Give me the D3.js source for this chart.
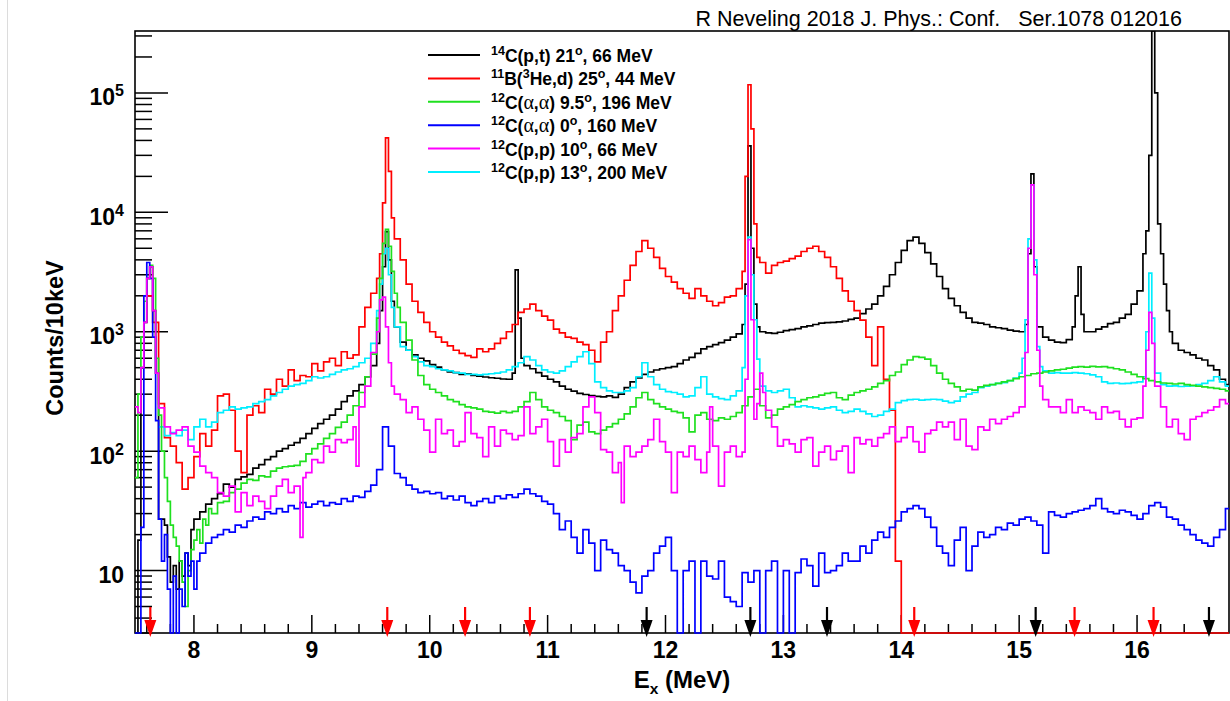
<!DOCTYPE html>
<html>
<head>
<meta charset="UTF-8" />
<script src="https://d3js.org/d3.v7.min.js"></script>
<style>
  body { margin: 0; background: #fff; }
  text { font-family: "Liberation Sans", Arial, sans-serif; }
</style>
</head>
<body>
<div id="chart"></div>
<script>
// spectra, [Ex (MeV) of bin left edge, counts/10keV]
var pt14 = [[7.50,0],[7.525,18],[7.55,500],[7.575,1200],[7.60,2800],[7.625,3500],[7.65,1500],[7.675,450],[7.70,27],[7.75,24],[7.775,13],[7.80,8],[7.825,11],[7.85,7],[7.875,12],[7.90,9],[7.925,14],[7.95,11],[7.975,22],
  [8.00,27],[8.05,31],[8.10,36],[8.15,40],[8.20,44],[8.25,53],[8.30,50],[8.35,58],[8.40,61],[8.45,64],[8.50,72],[8.55,77],[8.60,85],[8.65,90],[8.70,100],[8.75,105],[8.80,112],[8.85,118],[8.90,128],[8.95,140],
  [9.00,155],[9.05,170],[9.10,185],[9.15,200],[9.20,225],[9.25,260],[9.30,290],[9.35,320],[9.40,360],[9.45,420],[9.50,520],[9.55,800],[9.575,1500],[9.60,3500],[9.625,6900],[9.65,4000],[9.675,1800],[9.70,1100],[9.75,820],[9.80,700],[9.85,640],[9.90,600],[9.95,570],
  [10.00,530],[10.05,505],[10.10,480],[10.15,462],[10.20,455],[10.25,440],[10.30,445],[10.35,430],[10.40,425],[10.45,418],[10.50,412],[10.55,408],[10.60,402],[10.65,400],[10.70,450],[10.725,3300],[10.75,1300],[10.775,600],[10.80,520],[10.85,490],[10.90,455],[10.95,425],
  [11.00,400],[11.05,380],[11.10,350],[11.15,330],[11.20,318],[11.25,305],[11.30,298],[11.35,292],[11.40,288],[11.45,285],[11.50,290],[11.55,282],[11.60,300],[11.65,340],[11.70,380],[11.75,410],[11.80,440],[11.85,460],[11.90,478],[11.95,490],
  [12.00,500],[12.05,510],[12.10,540],[12.15,580],[12.20,610],[12.25,660],[12.30,720],[12.35,750],[12.40,780],[12.45,810],[12.50,850],[12.55,900],[12.60,960],[12.65,1150],[12.675,2500],[12.70,36000],[12.725,5000],[12.75,1700],[12.775,1100],[12.80,1000],[12.85,980],[12.90,970],[12.95,990],
  [13.00,1020],[13.05,1040],[13.10,1060],[13.15,1100],[13.20,1120],[13.25,1150],[13.30,1180],[13.35,1190],[13.40,1200],[13.45,1210],[13.50,1230],[13.55,1270],[13.60,1300],[13.65,1420],[13.70,1550],[13.75,1700],[13.80,2000],[13.85,2400],[13.90,3000],[13.95,3800],
  [14.00,4800],[14.05,5800],[14.10,6200],[14.15,5500],[14.20,4600],[14.25,3700],[14.30,2900],[14.35,2300],[14.40,1900],[14.45,1650],[14.50,1450],[14.55,1300],[14.60,1200],[14.65,1180],[14.70,1150],[14.75,1100],[14.80,1080],[14.85,1060],[14.90,1030],[14.95,1010],
  [15.00,1000],[15.05,1150],[15.075,4500],[15.10,21000],[15.125,3500],[15.15,1100],[15.20,900],[15.25,850],[15.30,820],[15.35,810],[15.40,860],[15.45,1100],[15.475,2000],[15.50,3500],[15.525,1400],[15.55,1000],[15.60,1000],[15.65,1050],[15.70,1100],[15.75,1170],[15.80,1200],[15.85,1300],[15.90,1400],[15.95,1700],
  [16.00,2200],[16.05,4500],[16.075,7000],[16.10,30000],[16.125,400000],[16.15,100000],[16.175,8000],[16.20,4500],[16.225,2500],[16.25,1500],[16.275,1000],[16.30,800],[16.35,700],[16.40,670],[16.45,640],[16.50,600],[16.55,580],[16.60,520],[16.65,480],[16.70,400],[16.75,360]]

var b11 = [[7.60,2000],[7.65,1200],[7.70,250],[7.75,130],[7.80,110],[7.85,80],[7.90,48],[7.95,60],
  [8.00,90],[8.05,140],[8.10,110],[8.15,150],[8.20,290],[8.25,300],[8.30,220],[8.35,100],[8.40,66],[8.45,200],[8.50,240],[8.55,210],[8.60,330],[8.65,300],[8.70,400],[8.75,350],[8.80,480],[8.85,390],[8.90,430],[8.95,420],
  [9.00,540],[9.05,470],[9.10,560],[9.15,600],[9.20,520],[9.25,680],[9.30,600],[9.35,640],[9.40,1100],[9.45,1600],[9.50,2100],[9.55,2800],[9.575,4500],[9.60,12000],[9.625,42000],[9.65,22000],[9.675,9000],[9.70,6000],[9.75,4000],[9.80,2500],[9.85,1800],[9.90,1450],[9.95,1200],
  [10.00,1000],[10.05,900],[10.10,820],[10.15,760],[10.20,700],[10.25,660],[10.30,630],[10.35,610],[10.40,720],[10.45,680],[10.50,720],[10.55,800],[10.60,880],[10.65,1000],[10.70,1150],[10.75,1450],[10.80,1550],[10.85,1700],[10.90,1500],[10.95,1350],
  [11.00,1250],[11.05,1050],[11.10,980],[11.15,900],[11.20,880],[11.25,820],[11.30,780],[11.35,700],[11.40,560],[11.45,820],[11.50,1000],[11.55,1500],[11.60,2000],[11.65,2700],[11.70,3600],[11.75,4700],[11.80,5800],[11.85,5000],[11.90,4200],[11.95,3400],
  [12.00,2900],[12.05,2600],[12.10,2300],[12.15,2100],[12.20,1900],[12.25,2300],[12.30,2000],[12.35,1800],[12.40,1650],[12.45,1750],[12.50,1950],[12.55,2000],[12.60,2300],[12.65,3200],[12.675,20000],[12.70,117000],[12.725,50000],[12.75,8000],[12.775,4200],[12.80,3800],[12.85,3100],[12.90,3600],[12.95,3800],
  [13.00,3900],[13.05,4100],[13.10,4300],[13.15,4700],[13.20,5000],[13.25,5200],[13.30,4700],[13.35,4200],[13.40,3500],[13.45,2800],[13.50,2200],[13.55,1800],[13.60,1500],[13.65,1250],[13.70,900],[13.75,520],[13.80,1100],[13.85,400],[13.90,220],[13.95,12],
  [14.00,0],[16.75,0]]

var aa95 = [[7.50,60],[7.525,300],[7.55,900],[7.575,1800],[7.60,2800],[7.625,3600],[7.65,2800],[7.675,600],[7.70,200],[7.725,100],[7.75,60],[7.775,38],[7.80,24],[7.825,19],[7.85,16],[7.875,12],[7.90,8],[7.925,5],[7.95,10],[7.975,15],
  [8.00,18],[8.025,22],[8.05,17],[8.075,27],[8.10,24],[8.125,33],[8.15,30],[8.20,37],[8.25,38],[8.30,45],[8.35,48],[8.40,54],[8.45,58],[8.50,57],[8.55,62],[8.60,61],[8.65,68],[8.70,72],[8.75,74],[8.80,75],[8.85,76],[8.90,82],[8.95,95],
  [9.00,105],[9.05,115],[9.10,128],[9.15,140],[9.20,158],[9.25,175],[9.30,200],[9.35,240],[9.40,310],[9.45,420],[9.50,650],[9.55,1300],[9.575,2800],[9.60,5500],[9.625,7200],[9.65,5200],[9.675,3200],[9.70,2100],[9.725,1600],[9.75,1200],[9.80,850],[9.85,580],[9.90,430],[9.95,360],
  [10.00,330],[10.05,310],[10.10,290],[10.15,270],[10.20,260],[10.25,245],[10.30,235],[10.35,230],[10.40,225],[10.45,215],[10.50,212],[10.55,208],[10.60,215],[10.65,210],[10.70,215],[10.75,235],[10.80,260],[10.85,310],[10.90,270],[10.95,235],
  [11.00,220],[11.05,210],[11.10,195],[11.15,180],[11.20,125],[11.25,165],[11.30,175],[11.35,145],[11.40,140],[11.45,150],[11.50,160],[11.55,170],[11.60,185],[11.65,205],[11.70,235],[11.75,280],[11.80,310],[11.85,270],[11.90,250],[11.95,235],
  [12.00,225],[12.05,215],[12.10,210],[12.15,190],[12.20,145],[12.25,200],[12.30,210],[12.35,185],[12.40,180],[12.45,190],[12.50,185],[12.55,195],[12.60,210],[12.65,240],[12.70,285],[12.75,330],[12.80,240],[12.85,190],[12.90,200],[12.95,225],
  [13.00,235],[13.05,245],[13.10,260],[13.15,270],[13.20,280],[13.25,285],[13.30,295],[13.35,305],[13.40,310],[13.45,280],[13.50,270],[13.55,295],[13.60,310],[13.65,320],[13.70,330],[13.75,345],[13.80,370],[13.85,390],[13.90,430],[13.95,460],
  [14.00,530],[14.05,580],[14.10,620],[14.15,610],[14.20,590],[14.25,520],[14.30,450],[14.35,400],[14.40,370],[14.45,345],[14.50,320],[14.55,330],[14.60,325],[14.65,345],[14.70,355],[14.75,360],[14.80,370],[14.85,380],[14.90,390],[14.95,405],
  [15.00,420],[15.05,430],[15.10,445],[15.15,450],[15.20,460],[15.25,470],[15.30,480],[15.35,485],[15.40,495],[15.45,505],[15.50,510],[15.55,505],[15.60,512],[15.65,508],[15.70,510],[15.75,500],[15.80,490],[15.85,480],[15.90,460],[15.95,440],
  [16.00,420],[16.05,405],[16.10,390],[16.15,380],[16.20,372],[16.25,370],[16.30,365],[16.35,370],[16.40,360],[16.45,355],[16.50,350],[16.55,345],[16.60,340],[16.65,335],[16.70,330],[16.75,320]]

var aa0 = [[7.50,0],[7.525,0],[7.55,23],[7.575,2000],[7.60,3800],[7.625,2800],[7.65,900],[7.675,180],[7.70,27],[7.725,12],[7.75,20],[7.775,7],[7.80,0],[7.825,9],[7.85,0],[7.875,7],[7.90,5],[7.925,14],[7.95,9],[7.975,12],
  [8.00,7],[8.025,12],[8.05,14],[8.10,17],[8.15,19],[8.20,20],[8.25,22],[8.30,21],[8.35,24],[8.40,23],[8.45,26],[8.50,28],[8.55,27],[8.60,31],[8.65,30],[8.70,33],[8.75,31],[8.80,35],[8.85,33],[8.90,37],[8.95,34],
  [9.00,36],[9.05,38],[9.10,35],[9.15,37],[9.20,36],[9.25,40],[9.30,38],[9.35,42],[9.40,41],[9.45,46],[9.50,52],[9.55,70],[9.60,160],[9.65,110],[9.70,65],[9.75,60],[9.80,52],[9.85,48],[9.90,45],[9.95,46],
  [10.00,44],[10.05,45],[10.10,40],[10.15,42],[10.20,39],[10.25,42],[10.30,37],[10.35,35],[10.40,38],[10.45,40],[10.50,37],[10.55,42],[10.60,40],[10.65,43],[10.70,41],[10.75,44],[10.80,48],[10.85,44],[10.90,42],[10.95,38],
  [11.00,36],[11.05,30],[11.10,22],[11.15,26],[11.20,19],[11.25,14],[11.30,22],[11.35,17],[11.40,10],[11.45,18],[11.50,15],[11.55,14],[11.60,11],[11.65,10],[11.70,8],[11.75,6.5],[11.80,9],[11.85,10],[11.90,14],[11.95,16],
  [12.00,19],[12.05,10],[12.10,0],[12.15,10],[12.20,12],[12.25,0],[12.30,12],[12.35,9],[12.40,8.5],[12.45,12],[12.50,6],[12.55,5.5],[12.60,5],[12.65,9.6],[12.70,8],[12.75,10],[12.80,0],[12.85,10],[12.90,12],[12.95,0],
  [13.00,10],[13.05,0],[13.10,9.6],[13.15,12.5],[13.20,11],[13.25,7.4],[13.30,14],[13.35,9.6],[13.40,10],[13.45,11],[13.50,14],[13.55,12],[13.60,12],[13.65,16],[13.70,14],[13.75,18],[13.80,21],[13.85,19],[13.90,23],[13.95,26],
  [14.00,31],[14.05,33],[14.10,35],[14.15,33],[14.20,28],[14.25,23],[14.30,16],[14.35,14],[14.40,11],[14.45,18],[14.50,23],[14.55,10],[14.60,16],[14.65,21],[14.70,19],[14.75,20],[14.80,23],[14.85,22],[14.90,25],[14.95,24],
  [15.00,27],[15.05,28],[15.10,26],[15.15,24],[15.20,14],[15.25,31],[15.30,29],[15.35,28],[15.40,30],[15.45,31],[15.50,32],[15.55,33],[15.60,35],[15.65,40],[15.70,33],[15.75,31],[15.80,30],[15.85,32],[15.90,31],[15.95,29],
  [16.00,27],[16.05,30],[16.10,35],[16.15,37],[16.20,34],[16.25,28],[16.30,27],[16.35,24],[16.40,22],[16.45,20],[16.50,18],[16.55,17],[16.60,16],[16.65,19],[16.70,22],[16.75,33]]

var pp10 = [[7.50,235],[7.525,210],[7.55,500],[7.575,1200],[7.60,2800],[7.625,3500],[7.65,1500],[7.675,450],[7.70,230],[7.75,160],[7.80,140],[7.85,150],[7.90,160],[7.95,110],
  [8.00,98],[8.05,75],[8.10,66],[8.15,60],[8.20,45],[8.25,42],[8.30,51],[8.35,31],[8.40,45],[8.45,35],[8.50,42],[8.55,38],[8.60,33],[8.65,42],[8.70,51],[8.75,58],[8.80,45],[8.85,51],[8.90,19],[8.925,60],[8.95,66],
  [9.00,85],[9.05,80],[9.10,110],[9.15,98],[9.20,125],[9.25,118],[9.30,125],[9.35,160],[9.375,75],[9.40,235],[9.45,350],[9.50,670],[9.55,1000],[9.575,1850],[9.60,1950],[9.625,1100],[9.65,550],[9.675,350],[9.70,300],[9.75,270],[9.80,210],[9.85,235],[9.90,185],[9.95,150],
  [10.00,98],[10.05,185],[10.10,140],[10.15,150],[10.20,110],[10.25,120],[10.30,210],[10.35,140],[10.40,130],[10.45,90],[10.50,160],[10.55,110],[10.60,150],[10.65,140],[10.70,125],[10.75,135],[10.80,235],[10.85,140],[10.90,160],[10.95,185],
  [11.00,120],[11.05,75],[11.10,125],[11.15,98],[11.20,130],[11.25,140],[11.30,235],[11.35,285],[11.40,210],[11.45,103],[11.50,98],[11.55,66],[11.60,80],[11.625,37],[11.65,110],[11.70,90],[11.75,98],[11.80,110],[11.85,125],[11.90,185],[11.95,120],
  [12.00,98],[12.05,45],[12.10,98],[12.15,90],[12.20,110],[12.25,85],[12.30,66],[12.35,98],[12.375,235],[12.40,110],[12.45,51],[12.50,98],[12.55,110],[12.60,90],[12.65,98],[12.675,400],[12.70,5900],[12.725,1260],[12.75,185],[12.775,250],[12.80,450],[12.825,310],[12.85,220],[12.90,160],[12.95,110],
  [13.00,125],[13.05,115],[13.10,98],[13.15,125],[13.20,130],[13.25,75],[13.30,98],[13.35,110],[13.40,85],[13.45,100],[13.50,110],[13.55,66],[13.60,130],[13.65,115],[13.70,125],[13.75,110],[13.80,130],[13.85,140],[13.90,160],[13.95,120],
  [14.00,130],[14.05,160],[14.10,120],[14.15,98],[14.20,140],[14.25,150],[14.30,175],[14.35,160],[14.40,175],[14.45,125],[14.50,185],[14.55,110],[14.60,103],[14.65,160],[14.70,150],[14.75,185],[14.80,170],[14.85,185],[14.90,195],[14.95,210],
  [15.00,235],[15.05,670],[15.075,5000],[15.10,17000],[15.125,3000],[15.15,700],[15.175,350],[15.20,270],[15.25,235],[15.30,235],[15.35,210],[15.40,270],[15.45,210],[15.50,235],[15.55,220],[15.60,210],[15.65,185],[15.70,235],[15.75,210],[15.80,215],[15.85,185],[15.90,160],[15.95,185],
  [16.00,190],[16.05,350],[16.075,700],[16.10,1450],[16.125,800],[16.15,350],[16.20,235],[16.25,160],[16.30,185],[16.35,140],[16.40,125],[16.45,185],[16.50,195],[16.55,210],[16.60,220],[16.65,235],[16.70,270],[16.75,250]]

var pp13 = [[7.70,160],[7.75,135],[7.80,143],[7.85,135],[7.90,150],[7.95,125],
  [8.00,160],[8.05,185],[8.10,160],[8.15,175],[8.20,210],[8.25,220],[8.30,235],[8.35,225],[8.40,230],[8.45,235],[8.50,250],[8.55,260],[8.60,270],[8.65,290],[8.70,310],[8.75,330],[8.80,350],[8.85,360],[8.90,370],[8.95,390],
  [9.00,420],[9.05,410],[9.10,420],[9.15,440],[9.20,460],[9.25,480],[9.30,490],[9.35,510],[9.40,550],[9.45,600],[9.50,800],[9.55,1500],[9.575,2500],[9.60,4500],[9.625,5000],[9.65,3000],[9.675,1600],[9.70,1100],[9.75,750],[9.80,700],[9.85,620],[9.90,560],[9.95,520],
  [10.00,510],[10.05,490],[10.10,480],[10.15,470],[10.20,455],[10.25,450],[10.30,440],[10.35,440],[10.40,435],[10.45,440],[10.50,445],[10.55,450],[10.60,460],[10.65,480],[10.70,510],[10.75,550],[10.80,620],[10.85,580],[10.90,520],[10.95,480],
  [11.00,460],[11.05,450],[11.10,470],[11.15,510],[11.20,560],[11.25,620],[11.30,680],[11.35,540],[11.40,380],[11.45,340],[11.50,320],[11.55,310],[11.60,310],[11.65,320],[11.70,340],[11.75,420],[11.80,550],[11.85,420],[11.90,360],[11.95,330],
  [12.00,315],[12.05,310],[12.10,300],[12.15,285],[12.20,290],[12.25,340],[12.30,420],[12.35,300],[12.40,285],[12.45,275],[12.50,270],[12.55,290],[12.60,320],[12.65,500],[12.675,2000],[12.70,6200],[12.725,3000],[12.75,1260],[12.775,590],[12.80,350],[12.85,320],[12.90,310],[12.95,320],
  [13.00,330],[13.05,280],[13.10,235],[13.15,240],[13.20,235],[13.25,230],[13.30,225],[13.35,230],[13.40,235],[13.45,220],[13.50,210],[13.55,215],[13.60,225],[13.65,215],[13.70,205],[13.75,195],[13.80,200],[13.85,215],[13.90,225],[13.95,255],
  [14.00,265],[14.05,270],[14.10,272],[14.15,268],[14.20,270],[14.25,272],[14.30,270],[14.35,262],[14.40,255],[14.45,262],[14.50,285],[14.55,300],[14.60,310],[14.65,340],[14.70,350],[14.75,360],[14.80,370],[14.85,375],[14.90,390],[14.95,410],
  [15.00,450],[15.025,600],[15.05,1260],[15.075,6000],[15.10,17000],[15.125,4000],[15.15,750],[15.175,510],[15.20,470],[15.25,450],[15.30,455],[15.35,450],[15.40,450],[15.45,455],[15.50,450],[15.55,445],[15.60,435],[15.65,420],[15.70,380],[15.75,370],[15.80,372],[15.85,368],[15.90,370],[15.95,375],
  [16.00,380],[16.05,420],[16.075,1000],[16.10,3100],[16.125,1300],[16.15,450],[16.20,360],[16.25,350],[16.30,352],[16.35,348],[16.40,350],[16.45,352],[16.50,360],[16.55,370],[16.60,390],[16.65,420],[16.70,380],[16.75,350]]

// known levels marked with arrows
var redArrowE = [7.63, 9.64, 10.30, 10.85, 14.11, 15.47, 16.14]
var blackArrowE = [11.84, 12.72, 13.37, 15.14, 16.61]

var xTicks = [8, 9, 10, 11, 12, 13, 14, 15, 16]
var yTicks = [10, 100, 1000, 10000, 100000]

var legendRows = [
  [["14","sup"],["C(p,t) 21"],["o","sup"],[", 66 MeV"]],
  [["11","sup"],["B("],["3","sup"],["He,d) 25"],["o","sup"],[", 44 MeV"]],
  [["12","sup"],["C("],["\u03b1","sym"],[","],["\u03b1","sym"],[") 9.5"],["o","sup"],[", 196 MeV"]],
  [["12","sup"],["C("],["\u03b1","sym"],[","],["\u03b1","sym"],[") 0"],["o","sup"],[", 160 MeV"]],
  [["12","sup"],["C(p,p) 10"],["o","sup"],[", 66 MeV"]],
  [["12","sup"],["C(p,p) 13"],["o","sup"],[", 200 MeV"]]
]
var legendSeries = [pt14, b11, aa95, aa0, pp10, pp13]
var legendColors = ["#000000", "#ff0000", "#1fe01f", "#0000ff", "#ff00ff", "#00eeff"]

var width = 1230
var height = 701

var x = d3.scaleLinear().domain([7.5, 16.78]).range([135, 1229])
var y = d3.scaleLog().domain([3, 3.3e5]).range([633, 31]).clamp(true)
var x0 = x.range()[0], x1 = x.range()[1]
var yBot = y.range()[0], yTop = y.range()[1]

var svg = d3.select("#chart")
  .append("svg")
  .attr("width", width)
  .attr("height", height)

// faint page edge
svg.append("line")
  .attr("x1", 7.5).attr("x2", 7.5).attr("y1", 0).attr("y2", height)
  .attr("stroke", "#dcdcdc").attr("stroke-width", 1)

// writes text parts with superscripts etc.
function richText(sel, parts, shiftAmt, smallSize, symSize) {
  var shift = 0
  parts.forEach(function(p) {
    var t = sel.append("tspan").text(p[0])
    var target = 0
    if (p[1] === "sup") target = -shiftAmt
    if (p[1] === "sub") target = shiftAmt
    t.attr("dy", target - shift)
    shift = target
    if (p[1] === "sup" || p[1] === "sub") t.attr("font-size", smallSize)
    if (p[1] === "sym") {
      t.attr("font-family", "'Liberation Serif', 'DejaVu Serif', serif")
        .attr("font-weight", "normal")
        .attr("font-size", symSize)
    }
  })
}

// title
svg.append("text")
  .attr("x", 1182).attr("y", 26)
  .attr("text-anchor", "end")
  .attr("font-size", 21.5)
  .style("white-space", "pre")
  .text("R Neveling 2018 J. Phys.: Conf.   Ser.1078 012016")

// ticks, x
var xMinor = d3.range(38, 84).filter(function(i) { return i % 5 != 0 }).map(function(i) { return i / 5 })
svg.append("g")
  .selectAll("line.xmin")
  .data(xMinor)
  .enter().append("line")
  .attr("x1", function(d) { return x(d) }).attr("x2", function(d) { return x(d) })
  .attr("y1", yBot).attr("y2", yBot - 9)
  .attr("stroke", "#000").attr("stroke-width", 1.5)
svg.append("g")
  .selectAll("line.xmaj")
  .data(xTicks)
  .enter().append("line")
  .attr("x1", function(d) { return x(d) }).attr("x2", function(d) { return x(d) })
  .attr("y1", yBot).attr("y2", yBot - 18)
  .attr("stroke", "#000").attr("stroke-width", 1.5)
svg.append("g")
  .selectAll("text")
  .data(xTicks)
  .enter().append("text")
  .attr("x", function(d) { return x(d) })
  .attr("y", yBot + 25)
  .attr("text-anchor", "middle")
  .attr("font-size", 23).attr("font-weight", "bold")
  .text(function(d) { return d })

// ticks, y
var yMinor = []
;[1, 10, 100, 1000, 10000, 100000].forEach(function(dec) {
  for (var k = 2; k <= 9; k++) {
    var v = k * dec
    if (v >= 3 && v <= 3.3e5) yMinor.push(v)
  }
})
svg.append("g")
  .selectAll("line")
  .data(yMinor)
  .enter().append("line")
  .attr("x1", x0).attr("x2", x0 + 17)
  .attr("y1", function(d) { return y(d) }).attr("y2", function(d) { return y(d) })
  .attr("stroke", "#000").attr("stroke-width", 1.5)
svg.append("g")
  .selectAll("line")
  .data(yTicks)
  .enter().append("line")
  .attr("x1", x0).attr("x2", x0 + 33)
  .attr("y1", function(d) { return y(d) }).attr("y2", function(d) { return y(d) })
  .attr("stroke", "#000").attr("stroke-width", 1.5)
yTicks.forEach(function(v) {
  var t = svg.append("text")
    .attr("x", 124).attr("y", y(v) + 12.5)
    .attr("text-anchor", "end")
    .attr("font-size", 23).attr("font-weight", "bold")
  var p = Math.round(Math.log10(v))
  if (p == 1) richText(t, [["10"]], 9, 16, 20)
  else richText(t, [["10"], [String(p), "sup"]], 9, 16, 20)
})

// frame
svg.append("rect")
  .attr("x", x0).attr("y", yTop)
  .attr("width", x1 - x0).attr("height", yBot - yTop)
  .attr("fill", "none").attr("stroke", "#000").attr("stroke-width", 1.6)

// axis titles
svg.append("text")
  .attr("transform", "translate(63," + ((yTop + yBot) / 2 + 6) + ") rotate(-90)")
  .attr("text-anchor", "middle")
  .attr("font-size", 23.5).attr("font-weight", "bold")
  .text("Counts/10keV")
var xt = svg.append("text")
  .attr("x", (x0 + x1) / 2).attr("y", 688)
  .attr("text-anchor", "middle")
  .attr("font-size", 24).attr("font-weight", "bold")
richText(xt, [["E"], ["x", "sub"], [" (MeV)"]], 6, 15.5, 20)

// histograms
svg.append("clipPath").attr("id", "plotClip")
  .append("rect")
  .attr("x", x0).attr("y", yTop)
  .attr("width", x1 - x0).attr("height", yBot - yTop + 2)

var step = d3.line()
  .x(function(d) { return x(d[0]) })
  .y(function(d) { return y(Math.max(d[1], 3)) })
  .curve(d3.curveStepAfter)

function withEnd(s) {
  var last = s[s.length - 1]
  return s.concat([[last[0] + 0.05, last[1]]])
}

var drawOrder = [0, 1, 5, 2, 3, 4]
var hists = svg.append("g").attr("clip-path", "url(#plotClip)")
drawOrder.forEach(function(i) {
  hists.append("path")
    .datum(withEnd(legendSeries[i]))
    .attr("d", step)
    .attr("fill", "none")
    .attr("stroke", legendColors[i])
    .attr("stroke-width", 1.7)
    .attr("stroke-linejoin", "miter")
})

// arrows
function drawArrows(list, color) {
  list.forEach(function(e) {
    var ax = x(e)
    svg.append("line")
      .attr("x1", ax).attr("x2", ax)
      .attr("y1", yBot - 26).attr("y2", yBot - 11)
      .attr("stroke", color).attr("stroke-width", 2.2)
    svg.append("path")
      .attr("d", "M" + (ax - 6) + "," + (yBot - 13) + " L" + (ax + 6) + "," + (yBot - 13) + " L" + ax + "," + (yBot + 4) + " Z")
      .attr("fill", color)
  })
}
drawArrows(redArrowE, "#ff0000")
drawArrows(blackArrowE, "#000000")

// legend
var leg = svg.append("g")
legendRows.forEach(function(parts, i) {
  var ry = 55 + i * 23.4
  leg.append("line")
    .attr("x1", 428).attr("x2", 480)
    .attr("y1", ry).attr("y2", ry)
    .attr("stroke", legendColors[i]).attr("stroke-width", 2)
  var t = leg.append("text")
    .attr("x", 491).attr("y", ry + 7)
    .attr("font-size", 17.5).attr("font-weight", "bold")
  richText(t, parts, 7, 12.5, 20)
})
</script>
</body>
</html>
